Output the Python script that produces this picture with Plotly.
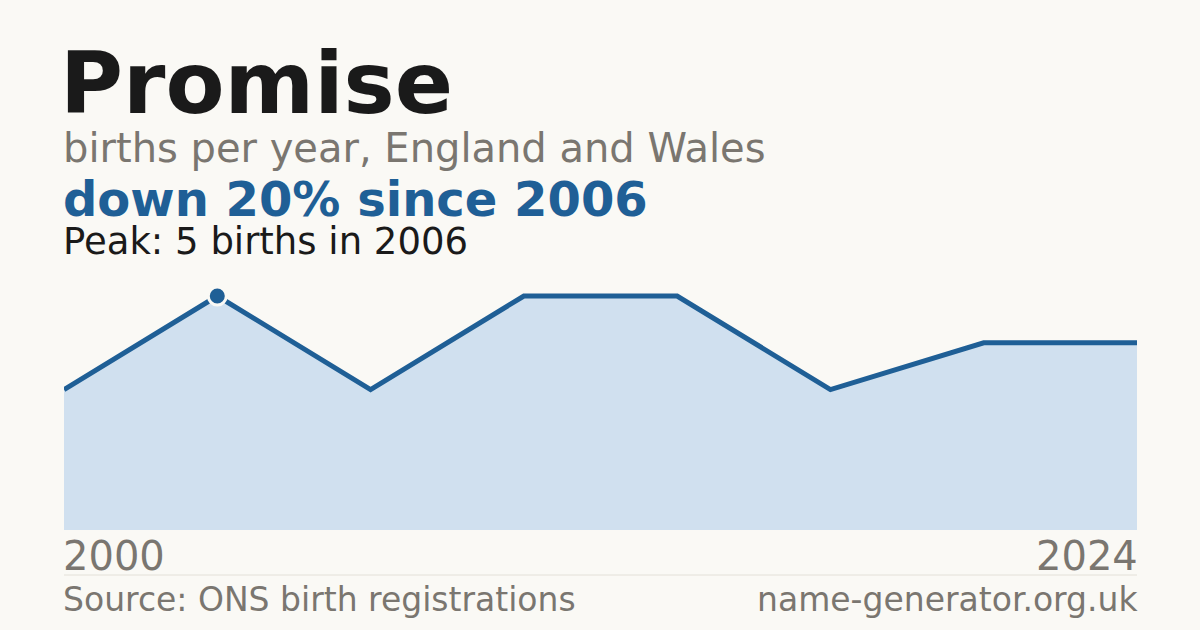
import plotly.graph_objects as go

# data
years = [2000, 2006, 2010, 2013, 2016, 2019, 2021, 2024]
births = [3, 5, 3, 5, 5, 3, 4, 4]
peak_index = 1

W, H = 1200, 630
BG = "#faf9f5"
BLUE = "#1f5f96"
FILL = "#d0e0ef"
GREY = "#7a7670"
INK = "#1a1a1a"
FONT = "DejaVu Sans"

def py(px):
  # pixel row -> paper y
  return 1 - px / H

positions = list(range(len(years)))

fig = go.Figure()
fig.add_trace(go.Scatter(x=positions, y=births, mode='lines',
  line=dict(color=BLUE, width=5), fill='tozeroy', fillcolor=FILL,
  hoverinfo='skip', showlegend=False))
fig.add_trace(go.Scatter(x=[positions[peak_index]], y=[births[peak_index]], mode='markers',
  marker=dict(color=BLUE, size=18, line=dict(color=BG, width=3)),
  cliponaxis=False, hoverinfo='skip', showlegend=False))

top_px, bottom_px, peak_px = 270, 530, 296
scale = (bottom_px - peak_px) / max(births)
fig.update_layout(
  width=W, height=H,
  paper_bgcolor=BG, plot_bgcolor=BG,
  margin=dict(l=0, r=0, t=0, b=0),
  xaxis=dict(domain=[64 / W, 1137 / W], range=[0, len(years) - 1], visible=False, fixedrange=True),
  yaxis=dict(domain=[py(bottom_px), py(top_px)], range=[0, (bottom_px - top_px) / scale],
    visible=False, fixedrange=True),
  font=dict(family=FONT),
)

def label(text, x, ycenter_px, size, color, bold=False, anchor='left'):
  if bold:
    text = '<b>' + text + '</b>'
  fig.add_annotation(text=text, x=x, y=py(ycenter_px), xref='paper', yref='paper',
    xanchor=anchor, yanchor='middle', showarrow=False, borderpad=0,
    font=dict(family=FONT, size=size, color=color))

left = 64 / W
right = 1137 / W
label('Promise', left - 0.004, 83, 86, INK, bold=True)
label('births per year, England and Wales', left - 0.002, 148, 40, GREY)
label('down 20% since 2006', left - 0.002, 199, 48, BLUE, bold=True)
label('Peak: %d births in %d' % (births[peak_index], years[peak_index]), left - 0.002, 242, 37, INK)
label(str(years[0]), left - 0.002, 556, 40, GREY)
label(str(years[-1]), right + 0.002, 556, 40, GREY, anchor='right')
label('Source: ONS birth registrations', left - 0.002, 599, 33, GREY)
label('name-generator.org.uk', right + 0.002, 599, 33, GREY, anchor='right')

fig.add_shape(type='line', xref='paper', yref='paper', x0=left, x1=right,
  y0=py(575), y1=py(575), line=dict(color='#e3e0d8', width=1))

fig.write_html("out.html", config={'displayModeBar': False},
  post_script="document.body.style.margin='0';")
